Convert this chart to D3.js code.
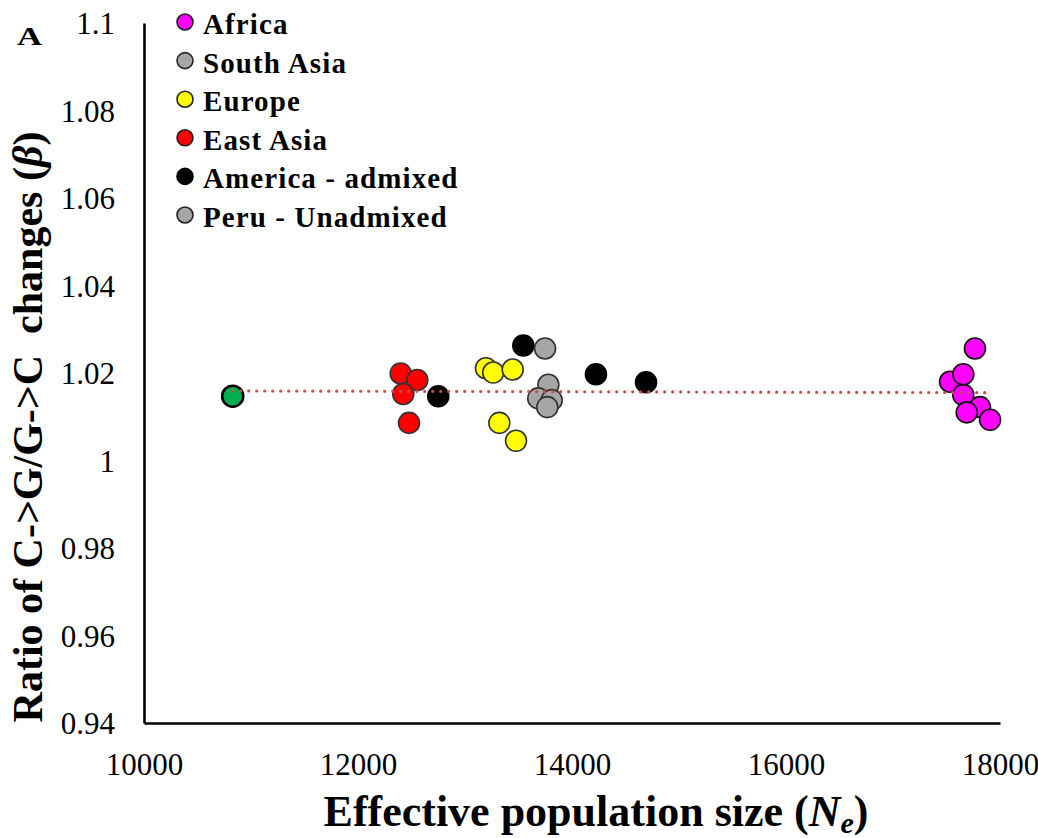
<!DOCTYPE html>
<html>
<head>
<meta charset="utf-8">
<script src="https://cdn.jsdelivr.net/npm/d3@7"></script>
<style>
  html, body { margin: 0; padding: 0; background: #fff; }
  svg { display: block; }
  text { font-family: "Liberation Serif", "Times New Roman", serif; fill: #000; }
</style>
</head>
<body>
<svg id="chart" width="1038" height="838"></svg>
<script>
// ---- Data ----
const groupNames = ["Africa", "South Asia", "Europe", "East Asia", "America - admixed", "Peru - Unadmixed"];

const africaNe   = [17533, 17657, 17657, 17813, 17689, 17907, 17766];
const africaBeta = [1.0180, 1.0150, 1.0197, 1.0122, 1.0110, 1.0093, 1.0256];

const southAsiaNe   = [13748, 13779, 13685, 13810];
const southAsiaBeta = [1.0256, 1.0173, 1.0142, 1.0138];

const europeNe   = [13196, 13264, 13446, 13321, 13477];
const europeBeta = [1.0211, 1.0201, 1.0208, 1.0086, 1.0045];

const eastAsiaNe   = [12399, 12554, 12423, 12477];
const eastAsiaBeta = [1.0199, 1.0184, 1.0152, 1.0086];

const americaNe   = [12750, 13545, 14224, 14692];
const americaBeta = [1.0147, 1.0263, 1.0197, 1.0179];

const peruNe   = [13769];
const peruBeta = [1.0122];

const otherNe   = [10829];
const otherBeta = [1.0147];

const trendNe   = [10829, 17907];
const trendBeta = [1.0159, 1.0155];

const xTicks = [10000, 12000, 14000, 16000, 18000];
const yTicks = [0.94, 0.96, 0.98, 1.00, 1.02, 1.04, 1.06, 1.08, 1.10];
const yTickLabels = ["0.94", "0.96", "0.98", "1", "1.02", "1.04", "1.06", "1.08", "1.1"];

// ---- Styles ----
const fills = {
  "Africa": "#ff00ff",
  "South Asia": "#a6a6a6",
  "Europe": "#ffff00",
  "East Asia": "#ff0000",
  "America - admixed": "#000000",
  "Peru - Unadmixed": "#a6a6a6"
};

const svg = d3.select("#chart");
const plotLeft = 144, plotRight = 1000, plotTop = 23, plotBottom = 723;

const x = d3.scaleLinear().domain([10000, 18000]).range([plotLeft, plotRight]);
const y = d3.scaleLinear().domain([0.94, 1.1]).range([plotBottom, plotTop]);

// Axes
const xAxis = svg.append("g")
  .attr("transform", `translate(0,${plotBottom})`)
  .call(d3.axisBottom(x).tickValues(xTicks).tickSize(0).tickSizeOuter(0).tickFormat(d3.format("d")));
xAxis.attr("font-family", null);
xAxis.select(".domain").attr("stroke", "#000").attr("stroke-width", 2.6);
xAxis.selectAll("text")
  .attr("y", 52).attr("dy", 0)
  .style("font-size", "31px");

const yAxis = svg.append("g")
  .attr("transform", `translate(${plotLeft},0)`)
  .call(d3.axisLeft(y).tickValues(yTicks).tickSize(0).tickSizeOuter(0)
    .tickFormat((d, i) => yTickLabels[i]));
yAxis.attr("font-family", null);
yAxis.select(".domain").attr("stroke", "#000").attr("stroke-width", 2.6);
yAxis.selectAll("text")
  .attr("x", -29).attr("dy", "0.35em")
  .style("font-size", "31px");

// Points
const series = [
  { name: "America - admixed", ne: americaNe, beta: americaBeta },
  { name: "East Asia", ne: eastAsiaNe, beta: eastAsiaBeta },
  { name: "Europe", ne: europeNe, beta: europeBeta },
  { name: "South Asia", ne: southAsiaNe, beta: southAsiaBeta },
  { name: "Peru - Unadmixed", ne: peruNe, beta: peruBeta },
  { name: "Africa", ne: africaNe, beta: africaBeta }
];

series.forEach(s => {
  const pts = s.ne.map((v, i) => ({ ne: v, beta: s.beta[i] }));
  svg.append("g").selectAll("circle").data(pts).join("circle")
    .attr("cx", d => x(d.ne))
    .attr("cy", d => y(d.beta))
    .attr("r", 10.5)
    .attr("fill", fills[s.name])
    .attr("stroke", s.name === "America - admixed" ? "#000" : (s.name === "Africa" ? "#111" : "#333"))
    .attr("stroke-width", 1.6);
});

// Other (green) point
svg.append("g").selectAll("circle")
  .data(otherNe.map((v, i) => ({ ne: v, beta: otherBeta[i] })))
  .join("circle")
  .attr("cx", d => x(d.ne))
  .attr("cy", d => y(d.beta))
  .attr("r", 10.5)
  .attr("fill", "#00b050")
  .attr("stroke", "#000")
  .attr("stroke-width", 2.6);

// Trend line (dotted, drawn on top)
const trend = trendNe.map((v, i) => ({ ne: v, beta: trendBeta[i] }));
svg.append("path")
  .datum(trend)
  .attr("d", d3.line().x(d => x(d.ne)).y(d => y(d.beta)))
  .attr("fill", "none")
  .attr("stroke", "#c0504d")
  .attr("stroke-width", 3.2)
  .attr("stroke-linecap", "round")
  .attr("stroke-dasharray", "0 8");

// Legend
const legend = svg.append("g");
groupNames.forEach((name, i) => {
  const cy = 22 + i * 38.6;
  legend.append("circle")
    .attr("cx", 185).attr("cy", cy).attr("r", 8)
    .attr("fill", fills[name])
    .attr("stroke", name === "America - admixed" ? "#000" : "#222")
    .attr("stroke-width", 1.6);
  legend.append("text")
    .attr("x", 203).attr("y", cy + 12)
    .style("font-size", "29px")
    .style("font-weight", "bold")
    .style("letter-spacing", "1.1px")
    .text(name);
});

// Panel label
svg.append("text")
  .attr("x", 17).attr("y", 45)
  .style("font-size", "26px")
  .style("font-weight", "bold")
  .attr("textLength", 25)
  .attr("lengthAdjust", "spacingAndGlyphs")
  .text("A");

// Y axis title
const yTitle = svg.append("text")
  .attr("transform", "translate(42,427) rotate(-90)")
  .attr("text-anchor", "middle")
  .style("font-size", "42px")
  .style("font-weight", "bold")
  .style("white-space", "pre");
yTitle.append("tspan").text("Ratio of C->G/G->C  changes (");
yTitle.append("tspan").style("font-style", "italic").text("β");
yTitle.append("tspan").text(")");

// X axis title
const xTitle = svg.append("text")
  .attr("x", 596).attr("y", 826)
  .attr("text-anchor", "middle")
  .style("font-size", "44px")
  .style("font-weight", "bold");
xTitle.append("tspan").text("Effective population size (");
xTitle.append("tspan").style("font-style", "italic").text("N");
xTitle.append("tspan").style("font-style", "italic").style("font-size", "30px").attr("dy", 7).text("e");
xTitle.append("tspan").attr("dy", -7).text(")");
</script>
</body>
</html>
